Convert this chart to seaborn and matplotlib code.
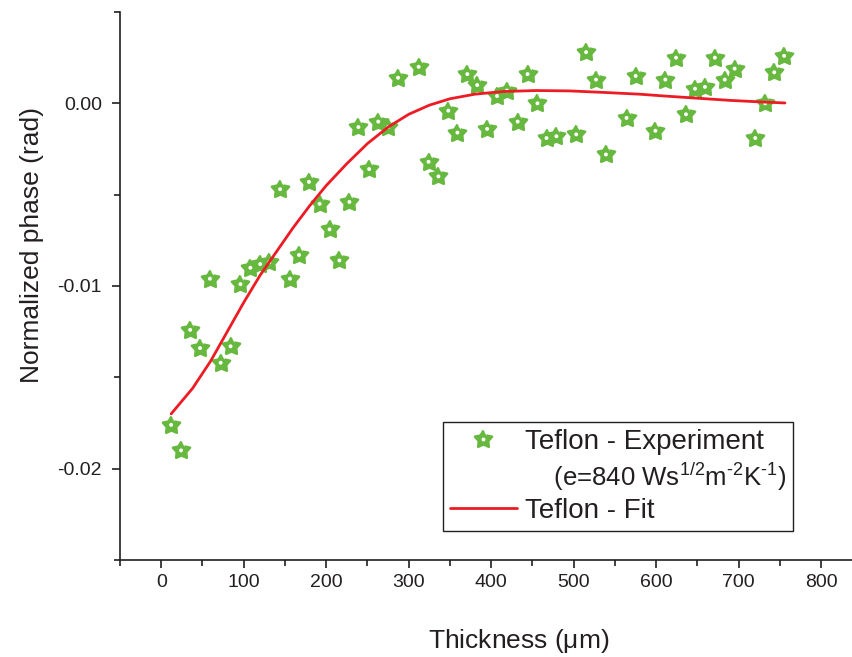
import numpy as np
import pandas as pd
import matplotlib
matplotlib.use("Agg")
import matplotlib.pyplot as plt
import seaborn as sns
from matplotlib.lines import Line2D
from matplotlib.legend_handler import HandlerTuple

# measured points (thickness in um, normalized phase in rad)
exp_thickness = [12, 24, 35, 47, 59, 72, 84, 96, 108, 120, 131, 144, 156, 167, 179,
                 192, 204, 216, 228, 239, 252, 263, 275, 287, 312, 324, 336, 348,
                 359, 371, 383, 395, 407, 419, 432, 444, 456, 467, 479, 503, 515,
                 527, 539, 564, 575, 599, 611, 624, 636, 647, 659, 671, 683, 695,
                 720, 732, 743, 755]
exp_phase = [-0.0176, -0.0190, -0.0124, -0.0134, -0.0096, -0.0142, -0.0133, -0.0099,
             -0.0090, -0.0088, -0.0087, -0.0047, -0.0096, -0.0083, -0.0043, -0.0055,
             -0.0069, -0.0086, -0.0054, -0.0013, -0.0036, -0.0010, -0.0013, 0.0014,
             0.0020, -0.0032, -0.0040, -0.0004, -0.0016, 0.0016, 0.0010, -0.0014,
             0.0004, 0.0007, -0.0010, 0.0016, 0.0000, -0.0019, -0.0018, -0.0017,
             0.0028, 0.0013, -0.0028, -0.0008, 0.0015, -0.0015, 0.0013, 0.0025,
             -0.0006, 0.0008, 0.0009, 0.0025, 0.0013, 0.0019, -0.0019, 0.0000,
             0.0017, 0.0026]

# fitted curve
fit_thickness = [12, 38, 60, 80, 100, 120, 140, 160, 180, 200, 225, 250, 275, 300,
                 325, 350, 380, 415, 455, 495, 535, 580, 610, 650, 690, 725, 756]
fit_phase = [-0.0170, -0.0156, -0.0141, -0.0125, -0.0109, -0.0094, -0.0081, -0.0068,
             -0.0056, -0.0045, -0.0033, -0.0022, -0.0013, -0.0006, -0.0001, 0.00025,
             0.0005, 0.00065, 0.0007, 0.00068, 0.0006, 0.0005, 0.0004, 0.00028,
             0.00016, 0.00008, 0.00002]

exp_df = pd.DataFrame({"thickness": exp_thickness, "phase": exp_phase})
fit_df = pd.DataFrame({"thickness": fit_thickness, "phase": fit_phase})

sns.set_style("ticks")
plt.rcParams["font.family"] = ["Liberation Sans", "DejaVu Sans"]
plt.rcParams["mathtext.fontset"] = "custom"
plt.rcParams["mathtext.rm"] = "Liberation Sans"
plt.rcParams["mathtext.it"] = "Liberation Sans:italic"

ink = "#231f20"
green = "#67b83f"
red = "#ed1c24"

# rounded five-point star
ang = np.pi / 2 + np.arange(10) * np.pi / 5
rad = np.where(np.arange(10) % 2 == 0, 1.0, 0.55)
star = np.column_stack([rad * np.cos(ang), rad * np.sin(ang)])

fig = plt.figure(figsize=(8.53, 6.57), dpi=100)
ax = fig.add_axes([120 / 853, 97 / 657, 742.5 / 853, 548 / 657])

sns.lineplot(data=fit_df, x="thickness", y="phase", color=red, linewidth=2.0,
             ax=ax, legend=False, zorder=3)
sns.scatterplot(data=exp_df, x="thickness", y="phase", marker=star, s=170,
                color=green, edgecolor=green, linewidth=1.8, ax=ax,
                legend=False, zorder=2)
ax.collections[-1].set_joinstyle("round")
sns.scatterplot(data=exp_df, x="thickness", y="phase", marker="o", s=8,
                color="white", edgecolor="none", linewidth=0, ax=ax,
                legend=False, zorder=2.5)

ax.set_xlim(-50, 850)
ax.set_ylim(-0.025, 0.005)
ax.set_xticks(np.arange(0, 801, 100))
ax.set_xticks(np.arange(-50, 851, 100), minor=True)
ax.set_yticks([-0.02, -0.01, 0.0])
ax.set_yticks([-0.025, -0.015, -0.005, 0.005], minor=True)
ax.set_yticklabels(["-0.02", "-0.01", "0.00"])

sns.despine(ax=ax)
for side in ["left", "bottom"]:
    ax.spines[side].set_linewidth(1.2)
    ax.spines[side].set_color(ink)
ax.tick_params(which="major", length=6, width=1.2, color=ink, labelsize=14,
               labelcolor=ink)
ax.tick_params(which="minor", length=4, width=1.2, color=ink)
ax.tick_params(axis="y", which="major", pad=7)
ax.tick_params(axis="x", which="major", pad=4)

ax.set_xlabel("Thickness ($\\mathregular{\\mu}$m)", fontsize=19, color=ink)
ax.set_ylabel("Normalized phase (rad)", fontsize=19, color=ink)
ax.xaxis.set_label_coords(0.537, -0.122)
ax.yaxis.set_label_coords(-0.102, 0.575)

star_h = Line2D([], [], linestyle="none", marker=star, markersize=13,
                markerfacecolor=green, markeredgecolor=green, markeredgewidth=1.8)
dot_h = Line2D([], [], linestyle="none", marker="o", markersize=2.8,
               markerfacecolor="white", markeredgecolor="none")
blank_h = Line2D([], [], linestyle="none")
fit_h = Line2D([], [], color=red, linewidth=2.0)
leg = ax.legend([(star_h, dot_h), blank_h, fit_h],
                ["Teflon - Experiment",
                 "    (e=840 Ws$^{1/2}$m$^{\\text{-}2}$K$^{\\text{-}1}$)",
                 "Teflon - Fit"],
                handler_map={tuple: HandlerTuple(ndivide=1, pad=0)},
                loc="upper left", bbox_to_anchor=(0.435, 0.252),
                borderaxespad=0, fontsize=20, handlelength=2.4,
                handletextpad=0.3, labelspacing=0.2, borderpad=0.25,
                frameon=True, fancybox=False, framealpha=1, edgecolor=ink)
leg.get_frame().set_linewidth(1.0)
for t in leg.get_texts():
    t.set_color(ink)
leg.get_texts()[1].set_fontsize(18.5)

fig.savefig("out.png", dpi=100)
